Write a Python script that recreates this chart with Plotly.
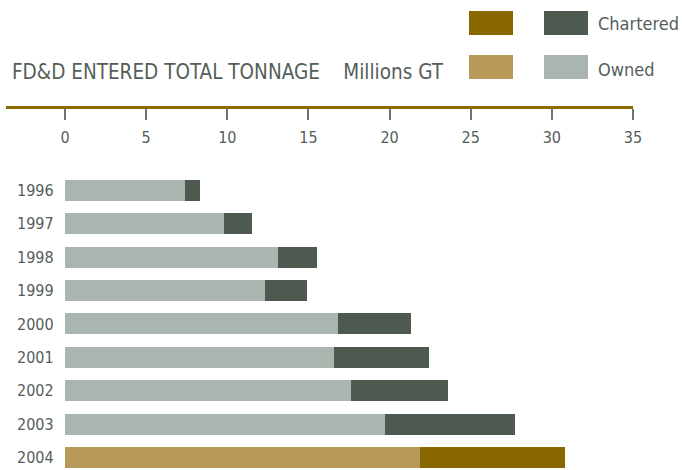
import plotly.graph_objects as go

# FD&D entered tonnage, millions GT
years = ["1996", "1997", "1998", "1999", "2000", "2001", "2002", "2003", "2004"]
owned = [7.4, 9.8, 13.1, 12.3, 16.8, 16.6, 17.6, 19.7, 21.9]
chartered = [0.9, 1.7, 2.4, 2.6, 4.5, 5.8, 6.0, 8.0, 8.9]
x_ticks = [0, 5, 10, 15, 20, 25, 30, 35]

GREY_OWNED = "#ABB5AF"
GREY_CHART = "#4E5A50"
GOLD_OWNED = "#B8995A"
GOLD_CHART = "#8A6800"
TEXT = "#545E59"
FONT = "DejaVu Sans Condensed, Liberation Sans Narrow, Roboto, sans-serif"

# latest year highlighted in gold
owned_colors = [GOLD_OWNED if y == years[-1] else GREY_OWNED for y in years]
chart_colors = [GOLD_CHART if y == years[-1] else GREY_CHART for y in years]

W, H = 682, 470
ML, MR, MT, MB = 6, 49, 107, 0
PW, PH = W - ML - MR, H - MT - MB


def px(x):
    return (x - ML) / PW


def py(y):
    return (H - MB - y) / PH


fig = go.Figure()
fig.add_trace(go.Bar(y=years, x=owned, orientation="h", name="Owned",
                     marker=dict(color=owned_colors, line_width=0), width=0.63))
fig.add_trace(go.Bar(y=years, x=chartered, orientation="h", name="Chartered",
                     marker=dict(color=chart_colors, line_width=0), width=0.63))

# legend swatches: gold (latest year) and grey columns
swatches = [
    (469, 513, 11, 35, GOLD_CHART),
    (544, 588, 11, 35, GREY_CHART),
    (469, 513, 55, 79, GOLD_OWNED),
    (544, 588, 55, 79, GREY_OWNED),
]
shapes = []
for x0, x1, y0, y1, c in swatches:
    shapes.append(dict(type="rect", xref="paper", yref="paper",
                       x0=px(x0), x1=px(x1), y0=py(y1), y1=py(y0),
                       fillcolor=c, line_width=0, layer="above"))

annotations = [
    dict(text="Chartered", xref="paper", yref="paper", x=px(596), y=py(23),
         xanchor="left", yanchor="middle", showarrow=False,
         font=dict(family=FONT, size=18, color=TEXT)),
    dict(text="Owned", xref="paper", yref="paper", x=px(596), y=py(70),
         xanchor="left", yanchor="middle", showarrow=False,
         font=dict(family=FONT, size=18, color=TEXT)),
    dict(text="FD&D ENTERED TOTAL TONNAGE\u00a0\u00a0\u00a0\u00a0Millions GT",
         xref="paper", yref="paper", x=px(10), y=py(72),
         xanchor="left", yanchor="middle", showarrow=False,
         font=dict(family=FONT, size=20.5, color=TEXT)),
]

fig.update_layout(
    width=W, height=H,
    margin=dict(l=ML, r=MR, t=MT, b=MB, pad=0),
    barmode="stack",
    showlegend=False,
    plot_bgcolor="white", paper_bgcolor="white",
    font=dict(family=FONT, color=TEXT),
    shapes=shapes,
    annotations=annotations,
    # scale axis drawn along the top edge, with ticks and labels hanging below
    xaxis=dict(side="bottom", anchor="free", position=1,
               range=[-3.64, 35], tickvals=x_ticks,
               showgrid=False, zeroline=False,
               showline=True, linecolor="#8C6B00", linewidth=3,
               ticks="outside", ticklen=11, tickwidth=1.5, tickcolor="#6B7570",
               ticklabelstandoff=4,
               tickfont=dict(family=FONT, size=16, color=TEXT)),
    yaxis=dict(type="category", categoryorder="array", categoryarray=years,
               range=[8.375, -2.5], showgrid=False, zeroline=False,
               showline=False, ticks="", ticklabelposition="inside",
               ticklabelstandoff=8,
               tickfont=dict(family=FONT, size=16, color=TEXT)),
)

fig.write_html("out.html")
